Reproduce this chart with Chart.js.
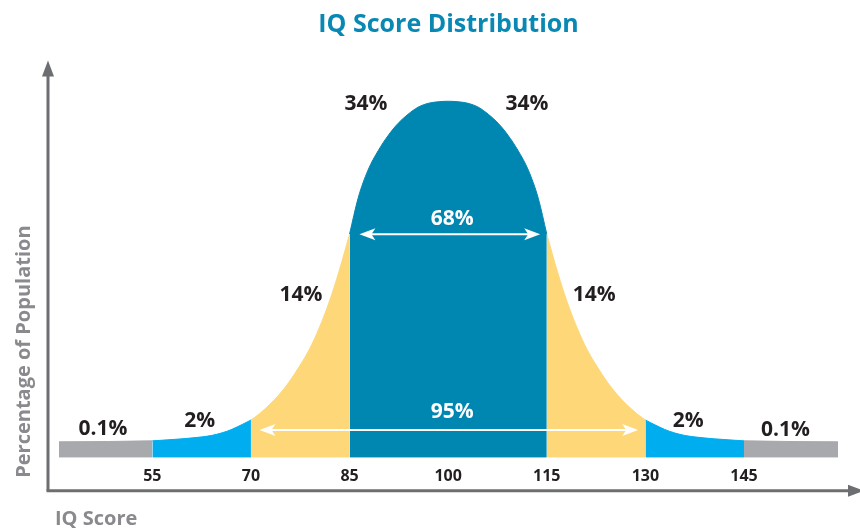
<!DOCTYPE html>
<html><head><meta charset="utf-8">
<script src="https://cdn.jsdelivr.net/npm/chart.js@4.4.0/dist/chart.umd.min.js"></script>
<style>html,body{margin:0;padding:0;background:#fff}#wrap{width:860px;height:528px;position:relative}</style>
</head><body><div id="wrap"><canvas id="c"></canvas></div>
<script>
// ---- data ----
const curveIQ  = [40.8,48.3,55,59.5,62.6,64.1,65.6,67.1,68.7,70,71.3,72.8,74.3,75.8,77.3,78.9,80.4,81.9,83.4,85,
                  86.3,87.8,89.4,90.9,92.4,93.9,95.4,97,98.5,100,
                  101.5,103,104.6,106.1,107.6,109.1,110.6,112.2,113.7,115,
                  116.6,118.1,119.6,121.1,122.7,124.2,125.7,127.2,128.7,130,
                  131.3,132.9,134.4,135.9,137.4,140.5,145,151.7,159.3];
const curveVal = [4.48,4.57,4.76,5.32,5.88,6.3,7.0,7.98,9.38,10.6,12.38,14.85,17.76,21.26,25.46,30.48,36.5,43.7,52.3,62.75,
                  72.83,80.67,86.27,90.48,93.84,96.36,98.32,99.44,99.86,100,
                  99.86,99.44,98.32,96.36,93.84,90.48,86.27,80.67,72.83,62.75,
                  52.3,43.7,36.5,30.48,25.46,21.26,17.76,14.85,12.38,10.6,
                  9.38,7.98,7.0,6.3,5.88,5.32,4.76,4.57,4.48];
const bandEdges  = [40.8,55,70,85,115,130,145,159.3];
const bandColors = ['#a7a9ac','#00aeef','#fdd778','#0087b1','#fdd778','#00aeef','#a7a9ac'];
const tickValues = [55,70,85,100,115,130,145];
const pctLabels  = ['0.1%','2%','14%','34%','34%','14%','2%','0.1%'];
const pctAnchorIQ  = [47.5,62.2,77.6,87.5,112.0,122.2,136.5,151.3];
const pctAnchorVal = [8.1,10.4,45.7,99.2,99.2,45.7,10.4,7.8];
const spanLabels = ['68%','95%'];
const spanFrom   = [86.5,71.3];
const spanTo     = [114.0,128.9];
const spanLevel  = [62.7,7.8];
const spanTextIQ = [100.6,100.6];
const spanTextVal= [66.9,12.9];

const datasets = [];
for (let i = 0; i < bandColors.length; i++) {
  const a = bandEdges[i], b = bandEdges[i+1];
  const pts = [];
  curveIQ.forEach((q, k) => { if (q >= a && q <= b) pts.push({x:q, y:curveVal[k]}); });
  datasets.push({
    data: pts, backgroundColor: bandColors[i], borderColor: bandColors[i], borderWidth: 1,
    fill: 'origin', pointRadius: 0, cubicInterpolationMode: 'monotone'
  });
}

const FONT = '"Open Sans", "DejaVu Sans", sans-serif';
function arrowHead(ctx, tx, y, dir) {
  ctx.beginPath();
  ctx.moveTo(tx, y);
  ctx.lineTo(tx + dir*16, y - 6);
  ctx.lineTo(tx + dir*12, y);
  ctx.lineTo(tx + dir*16, y + 6);
  ctx.closePath();
  ctx.fill();
}
const deco = {
  id: 'deco',
  afterDatasetsDraw(chart) {
    const {ctx, chartArea: ca} = chart;
    const xs = chart.scales.x, ys = chart.scales.y;
    ctx.save();
    // span arrows
    ctx.strokeStyle = '#fff'; ctx.fillStyle = '#fff'; ctx.lineWidth = 2;
    spanLabels.forEach((t, i) => {
      const x1 = xs.getPixelForValue(spanFrom[i]), x2 = xs.getPixelForValue(spanTo[i]);
      const y = ys.getPixelForValue(spanLevel[i]);
      ctx.beginPath(); ctx.moveTo(x1 + 8, y); ctx.lineTo(x2 - 8, y); ctx.stroke();
      arrowHead(ctx, x1, y, 1); arrowHead(ctx, x2, y, -1);
      ctx.font = 'bold 21px ' + FONT; ctx.textAlign = 'center'; ctx.textBaseline = 'middle';
      ctx.fillText(t, xs.getPixelForValue(spanTextIQ[i]), ys.getPixelForValue(spanTextVal[i]));
    });
    // percentage labels
    ctx.fillStyle = '#231f20';
    ctx.font = 'bold 21px ' + FONT;
    pctLabels.forEach((t, i) => {
      ctx.fillText(t, xs.getPixelForValue(pctAnchorIQ[i]), ys.getPixelForValue(pctAnchorVal[i]));
    });
    // axes with arrows
    const ax = ca.left - 11, ay = ca.bottom + 33;
    ctx.strokeStyle = '#6d6e71'; ctx.fillStyle = '#6d6e71'; ctx.lineWidth = 3;
    ctx.beginPath(); ctx.moveTo(ax, ay); ctx.lineTo(ax, ca.top + 10); ctx.stroke();
    ctx.beginPath(); ctx.moveTo(ax, ca.top - 2); ctx.lineTo(ax - 6, ca.top + 14); ctx.lineTo(ax + 6, ca.top + 14); ctx.closePath(); ctx.fill();
    ctx.beginPath(); ctx.moveTo(ax - 1.5, ay); ctx.lineTo(chart.width - 8, ay); ctx.stroke();
    ctx.beginPath(); ctx.moveTo(chart.width + 4, ay); ctx.lineTo(chart.width - 12, ay - 6); ctx.lineTo(chart.width - 12, ay + 6); ctx.closePath(); ctx.fill();
    // axis titles
    ctx.fillStyle = '#898a8d';
    ctx.font = 'bold 20px ' + FONT;
    ctx.textAlign = 'left'; ctx.textBaseline = 'middle';
    ctx.fillText('IQ Score', ca.left - 4, ay + 28);
    ctx.save();
    ctx.translate(24, ca.bottom + 20); ctx.rotate(-Math.PI/2);
    ctx.fillText('Percentage of Population', 0, 0);
    ctx.restore();
    ctx.restore();
  }
};

new Chart(document.getElementById('c'), {
  type: 'line',
  data: { datasets },
  plugins: [deco],
  options: {
    responsive: true, maintainAspectRatio: false, animation: false,
    layout: { padding: { left: 59, right: 22, top: 0, bottom: 33 } },
    plugins: {
      legend: { display: false }, tooltip: { enabled: false },
      title: { display: true, text: 'IQ Score Distribution', color: '#0a88b4',
               font: { family: FONT, size: 25, weight: 'bold' }, padding: { top: 10, bottom: 22.4 } }
    },
    scales: {
      x: { type: 'linear', min: 40.8, max: 159.3,
           afterBuildTicks: s => { s.ticks = tickValues.map(v => ({value: v})); },
           grid: { display: false, drawTicks: false }, border: { display: false },
           ticks: { padding: 9, color: '#231f20', font: { family: FONT, size: 16, weight: 'bold' } } },
      y: { display: false, min: 0, max: 110.9 }
    }
  }
});
</script></body></html>
